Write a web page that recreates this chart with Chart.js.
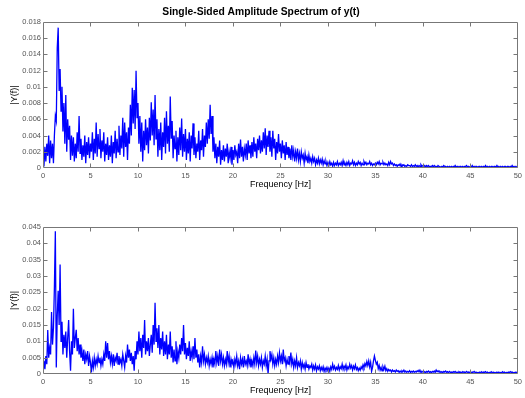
<!DOCTYPE html>
<html>
<head>
<meta charset="utf-8">
<script src="https://cdn.jsdelivr.net/npm/chart.js@4"></script>
<style>
html, body { margin: 0; padding: 0; background: #fff; }
#wrap { position: relative; width: 525px; height: 398px; }
canvas { position: absolute; left: 0; }
#topChart { top: 0; }
#bottomChart { top: 200px; }
</style>
</head>
<body>
<div id="wrap">
    <canvas id="topChart" width="525" height="200"></canvas>
    <canvas id="bottomChart" width="525" height="198"></canvas>
</div>
<script>
// 頻率軸: 0 ~ 50 Hz, 每 0.1 Hz 一點
const freqStep = 0.1;

// 振幅單位 (數值 x 1e-4)
const ampUnit = 1e-4;

// 上圖 |Y(f)| (讀圖估計值, 每行 1 Hz)
const ampTop = [
    12,2,26,8,30,15,40,6,34,12,
    30,6,40,64,58,148,173,95,122,70,
    100,45,80,30,90,20,60,35,52,10,
    40,15,38,8,30,12,44,20,64,18,
    36,10,28,14,40,6,32,16,38,12,
    30,20,44,10,36,18,56,14,42,24,
    48,12,34,20,44,8,30,16,38,10,
    28,14,40,6,32,18,46,12,36,20,
    52,16,40,24,62,14,56,26,44,10,
    50,30,78,40,99,55,96,48,120,62,
    80,30,64,20,56,8,46,22,60,28,
    50,18,62,34,81,40,72,28,90,36,
    60,14,48,22,56,10,44,26,62,18,
    70,30,52,20,88,36,58,12,40,24,
    46,8,38,16,50,22,61,14,42,20,
    48,10,36,18,44,8,40,24,55,16,
    38,12,30,20,46,10,34,22,48,14,
    40,26,56,30,60,36,78,42,64,20,
    38,12,30,6,26,14,34,4,22,10,
    28,8,24,14,30,6,20,12,26,4,
    22,10,28,16,20,6,30,12,35,14,
    26,8,24,16,30,10,34,18,28,12,
    32,14,38,20,30,12,36,22,40,18,
    34,20,44,24,49,16,40,26,46,20,
    38,14,46,24,36,10,32,18,42,20,
    30,12,34,18,28,10,32,16,26,12,
    24,10,28,14,22,8,20,12,24,10,
    18,8,20,12,16,6,18,10,14,6,
    16,8,12,6,14,8,12,4,10,6,
    12,5,10,6,11,4,9,5,8,3,
    7,3,8,4,6,2,7,3,6,4,
    8,3,6,4,7,3,9,4,6,3,
    7,4,8,3,6,5,9,4,7,3,
    6,4,8,5,7,3,6,4,8,5,
    7,4,6,5,8,4,6,3,5,4,
    6,4,7,5,8,4,6,5,7,4,
    6,4,5,3,7,4,8,5,6,3,
    5,3,4,2,4,3,5,2,4,3,
    4,2,3,2,4,3,3,2,4,2,
    3,2,4,2,3,1,3,2,4,2,
    3,2,3,1,3,2,3,1,2,2,
    3,1,3,2,2,1,3,2,2,1,
    2,1,3,2,2,1,2,1,2,1,
    2,1,2,1,3,1,2,2,1,2,
    2,1,2,1,2,2,3,1,2,1,
    2,1,3,1,2,1,2,2,1,2,
    2,1,2,1,2,1,3,1,2,1,
    2,1,2,2,1,2,2,1,3,1,
    2,1,2,1,2,1,2,2,1,2,
    2,1,2,1,3,1,2,1,2,1,
    2
];

// 下圖 |Y(f)| (讀圖估計值, 每行 1 Hz)
const ampBottom = [
    20,40,15,55,30,135,50,80,60,190,
    90,140,265,437,20,180,255,150,335,100,
    160,60,120,80,130,50,110,165,70,10,
    100,60,200,80,110,135,70,110,60,90,
    50,70,40,75,30,60,45,70,25,55,
    35,5,40,20,50,25,45,30,55,35,
    50,25,45,30,60,40,100,50,95,45,
    70,35,55,30,60,25,50,40,65,30,
    55,35,45,25,60,40,20,55,35,90,
    50,75,40,65,30,55,10,70,45,100,
    60,130,70,110,50,120,80,165,60,100,
    70,110,55,90,120,65,150,90,218,100,
    140,80,150,60,110,75,130,55,100,60,
    120,45,90,60,130,50,85,35,75,40,
    100,30,70,50,90,60,110,70,150,60,
    95,45,80,55,100,40,70,50,85,45,
    110,50,75,35,60,20,55,35,85,40,
    60,30,50,35,55,25,45,30,50,20,
    45,30,70,35,55,25,75,40,60,30,
    50,25,45,30,70,35,55,20,45,30,
    40,20,45,30,55,25,40,15,50,30,
    45,20,55,30,40,25,60,30,45,20,
    40,25,50,30,72,35,55,25,45,30,
    50,20,40,30,55,25,45,0,40,70,
    45,60,30,50,25,45,30,55,35,65,
    40,55,30,75,40,50,25,45,30,55,
    35,66,30,45,20,40,25,50,20,35,
    25,40,15,35,20,30,15,35,20,30,
    15,25,20,30,12,25,15,28,10,22,
    15,25,10,20,12,22,8,18,12,20,
    10,18,8,22,14,30,16,24,12,20,
    14,26,12,22,16,30,14,24,18,28,
    12,22,16,30,18,26,12,24,16,28,
    14,20,10,18,12,22,16,28,20,32,
    24,38,26,40,22,36,8,20,40,55,
    42,30,36,16,26,12,20,10,22,14,
    24,10,16,8,14,10,12,6,12,8,
    10,6,12,8,10,5,9,6,10,7,
    12,6,9,5,8,6,10,5,8,6,
    9,5,8,6,10,7,12,6,9,5,
    8,5,7,4,8,6,9,5,7,4,
    8,6,9,5,12,7,10,6,8,5,
    7,4,8,6,9,5,7,4,8,5,
    6,4,7,5,8,4,6,3,7,5,
    6,3,7,5,6,4,8,5,6,4,
    7,4,6,5,8,4,6,3,5,4,
    6,4,7,3,6,5,7,4,6,3,
    5,4,7,3,6,4,5,3,6,4,
    6,3,5,4,7,4,6,3,5,4,
    6,4,7,5,6,3,5,4,6,4,
    5
];

const titleText = 'Single-Sided Amplitude Spectrum of y(t)';
const xLabel = 'Frequency [Hz]';
const yLabel = '|Y(f)|';

Chart.defaults.font.family = '"Liberation Sans", Arial, Helvetica, sans-serif';

// MATLAB 風格的外框和向內刻度
const matlabBox = {
    id: 'matlabBox',
    afterDraw(chart) {
        const { ctx, chartArea: a, scales } = chart;
        const L = Math.round(a.left) + 0.5;
        const R = Math.round(a.right) - 0.5;
        const T = Math.round(a.top) + 0.5;
        const B = Math.round(a.bottom) - 0.5;
        const len = 4;
        ctx.save();
        ctx.strokeStyle = '#777';
        ctx.lineWidth = 1;
        ctx.beginPath();
        ctx.rect(L, T, R - L, B - T);
        scales.x.ticks.forEach(t => {
            const px = Math.round(scales.x.getPixelForValue(t.value)) + 0.5;
            if (px <= L + 1 || px >= R - 1) return;
            ctx.moveTo(px, B); ctx.lineTo(px, B - len);
            ctx.moveTo(px, T); ctx.lineTo(px, T + len);
        });
        scales.y.ticks.forEach(t => {
            const py = Math.round(scales.y.getPixelForValue(t.value)) + 0.5;
            if (py <= T + 1 || py >= B - 1) return;
            ctx.moveTo(L, py); ctx.lineTo(L + len, py);
            ctx.moveTo(R, py); ctx.lineTo(R - len, py);
        });
        ctx.stroke();
        ctx.restore();
    }
};

function makeChart(canvasId, values, yMax, yStep, cfg) {
    const points = values.map((v, i) => ({ x: i * freqStep, y: v * ampUnit }));
    return new Chart(document.getElementById(canvasId), {
        type: 'line',
        data: {
            datasets: [{
                data: points,
                borderColor: '#0000ff',
                borderWidth: 1.3,
                pointRadius: 0,
                tension: 0,
                fill: false
            }]
        },
        options: {
            responsive: false,
            animation: false,
            layout: { padding: { top: cfg.padTop, right: 3, left: 0, bottom: 0 } },
            plugins: {
                legend: { display: false },
                tooltip: { enabled: false },
                title: {
                    display: cfg.showTitle,
                    text: titleText,
                    color: '#000',
                    font: { size: 10.3, weight: 'bold' },
                    padding: { top: 6, bottom: 3.6 }
                }
            },
            scales: {
                x: {
                    type: 'linear',
                    min: 0,
                    max: 50,
                    grid: { display: false, drawTicks: false },
                    border: { display: false },
                    ticks: { stepSize: 5, color: '#555', font: { size: 7.5 }, padding: 3, maxRotation: 0 },
                    title: {
                        display: true,
                        text: xLabel,
                        color: '#000',
                        font: { size: 9 },
                        padding: { top: 0, bottom: cfg.xTitlePad }
                    },
                    afterFit: s => { s.height = cfg.xHeight; }
                },
                y: {
                    min: 0,
                    max: yMax,
                    grid: { display: false, drawTicks: false },
                    border: { display: false },
                    ticks: {
                        stepSize: yStep,
                        color: '#555',
                        font: { size: 7.5 },
                        padding: 2,
                        callback: v => String(+v.toFixed(3))
                    },
                    title: {
                        display: true,
                        text: yLabel,
                        color: '#000',
                        font: { size: 9 },
                        padding: { top: 9, bottom: 0 }
                    },
                    afterFit: s => { s.width = 43; }
                }
            }
        },
        plugins: [matlabBox]
    });
}

makeChart('topChart', ampTop, 0.018, 0.002,
    { showTitle: true, padTop: 0, xHeight: 32, xTitlePad: 10 });
makeChart('bottomChart', ampBottom, 0.045, 0.005,
    { showTitle: false, padTop: 27, xHeight: 24, xTitlePad: 2 });
</script>
</body>
</html>
